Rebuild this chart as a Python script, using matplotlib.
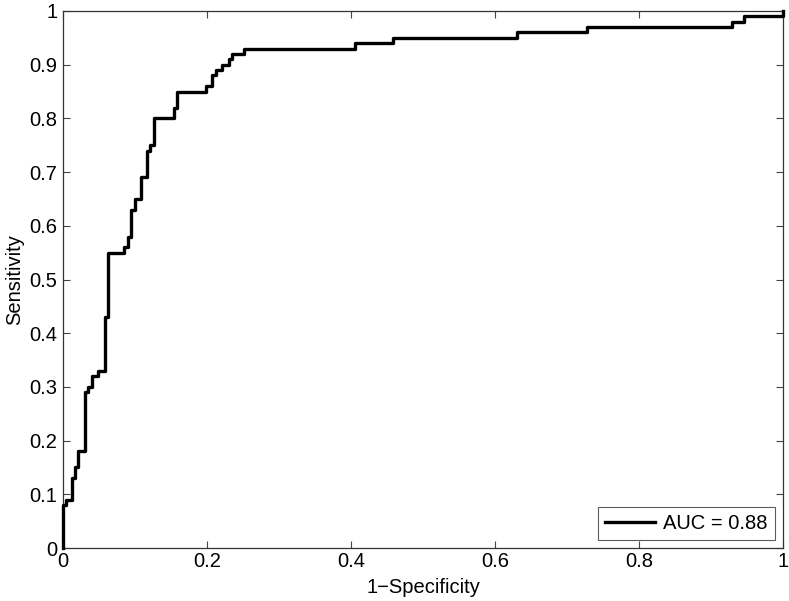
import matplotlib
matplotlib.use("Agg")
import matplotlib.pyplot as plt

plt.rcParams['font.family'] = ['Liberation Sans', 'DejaVu Sans']

# ROC corners: false positive rate where the curve rises, and sensitivity after the rise
fpr = [0.0, 0.0, 0.004, 0.0125, 0.017, 0.021, 0.031, 0.035, 0.040, 0.049,
       0.058, 0.0625, 0.085, 0.090, 0.094, 0.0995, 0.108, 0.117, 0.121, 0.126,
       0.154, 0.158, 0.198, 0.207, 0.212, 0.221, 0.230, 0.235, 0.252, 0.4055,
       0.459, 0.631, 0.728, 0.9285, 0.946, 1.0, 1.0]
tpr = [0.0, 0.08, 0.09, 0.13, 0.15, 0.18, 0.29, 0.30, 0.32, 0.33,
       0.43, 0.55, 0.56, 0.58, 0.63, 0.65, 0.69, 0.74, 0.75, 0.80,
       0.82, 0.85, 0.86, 0.88, 0.89, 0.90, 0.91, 0.92, 0.93, 0.94,
       0.95, 0.96, 0.97, 0.98, 0.99, 0.99, 1.0]
auc_label = 'AUC = 0.88'

xticks = [0, 0.2, 0.4, 0.6, 0.8, 1]
yticks = [0, 0.1, 0.2, 0.3, 0.4, 0.5, 0.6, 0.7, 0.8, 0.9, 1]

fig = plt.figure(figsize=(7.89, 6.01), dpi=100)
ax = fig.add_axes([63/789, 1-548/601, 720/789, 537/601])

ax.plot(fpr, tpr, drawstyle='steps-post', color='black', lw=2.4,
        label=auc_label, clip_on=False, zorder=5)

ax.set_xlim(0, 1)
ax.set_ylim(0, 1)
ax.set_xticks(xticks)
ax.set_xticklabels(['0', '0.2', '0.4', '0.6', '0.8', '1'])
ax.set_yticks(yticks)
ax.set_yticklabels(['0', '0.1', '0.2', '0.3', '0.4', '0.5', '0.6', '0.7', '0.8', '0.9', '1'])
ax.tick_params(direction='in', length=5, width=0.8, color='#444444',
               top=True, right=True, labelsize=14.5)
ax.tick_params(axis='x', pad=3)
ax.tick_params(axis='y', pad=4)
for s in ax.spines.values():
    s.set_color('#333333')
    s.set_linewidth(0.9)

ax.set_xlabel('1\u2212Specificity', fontsize=14.5, labelpad=5)
ax.set_ylabel('Sensitivity', fontsize=14.5, labelpad=4)

leg = ax.legend(loc='lower right', fontsize=14.5, frameon=True, fancybox=False,
                borderaxespad=0.4, handlelength=2.5, borderpad=0.35,
                handletextpad=0.4)
leg.get_frame().set_edgecolor('#333333')
leg.get_frame().set_linewidth(0.8)

fig.savefig('out.png', dpi=100)
